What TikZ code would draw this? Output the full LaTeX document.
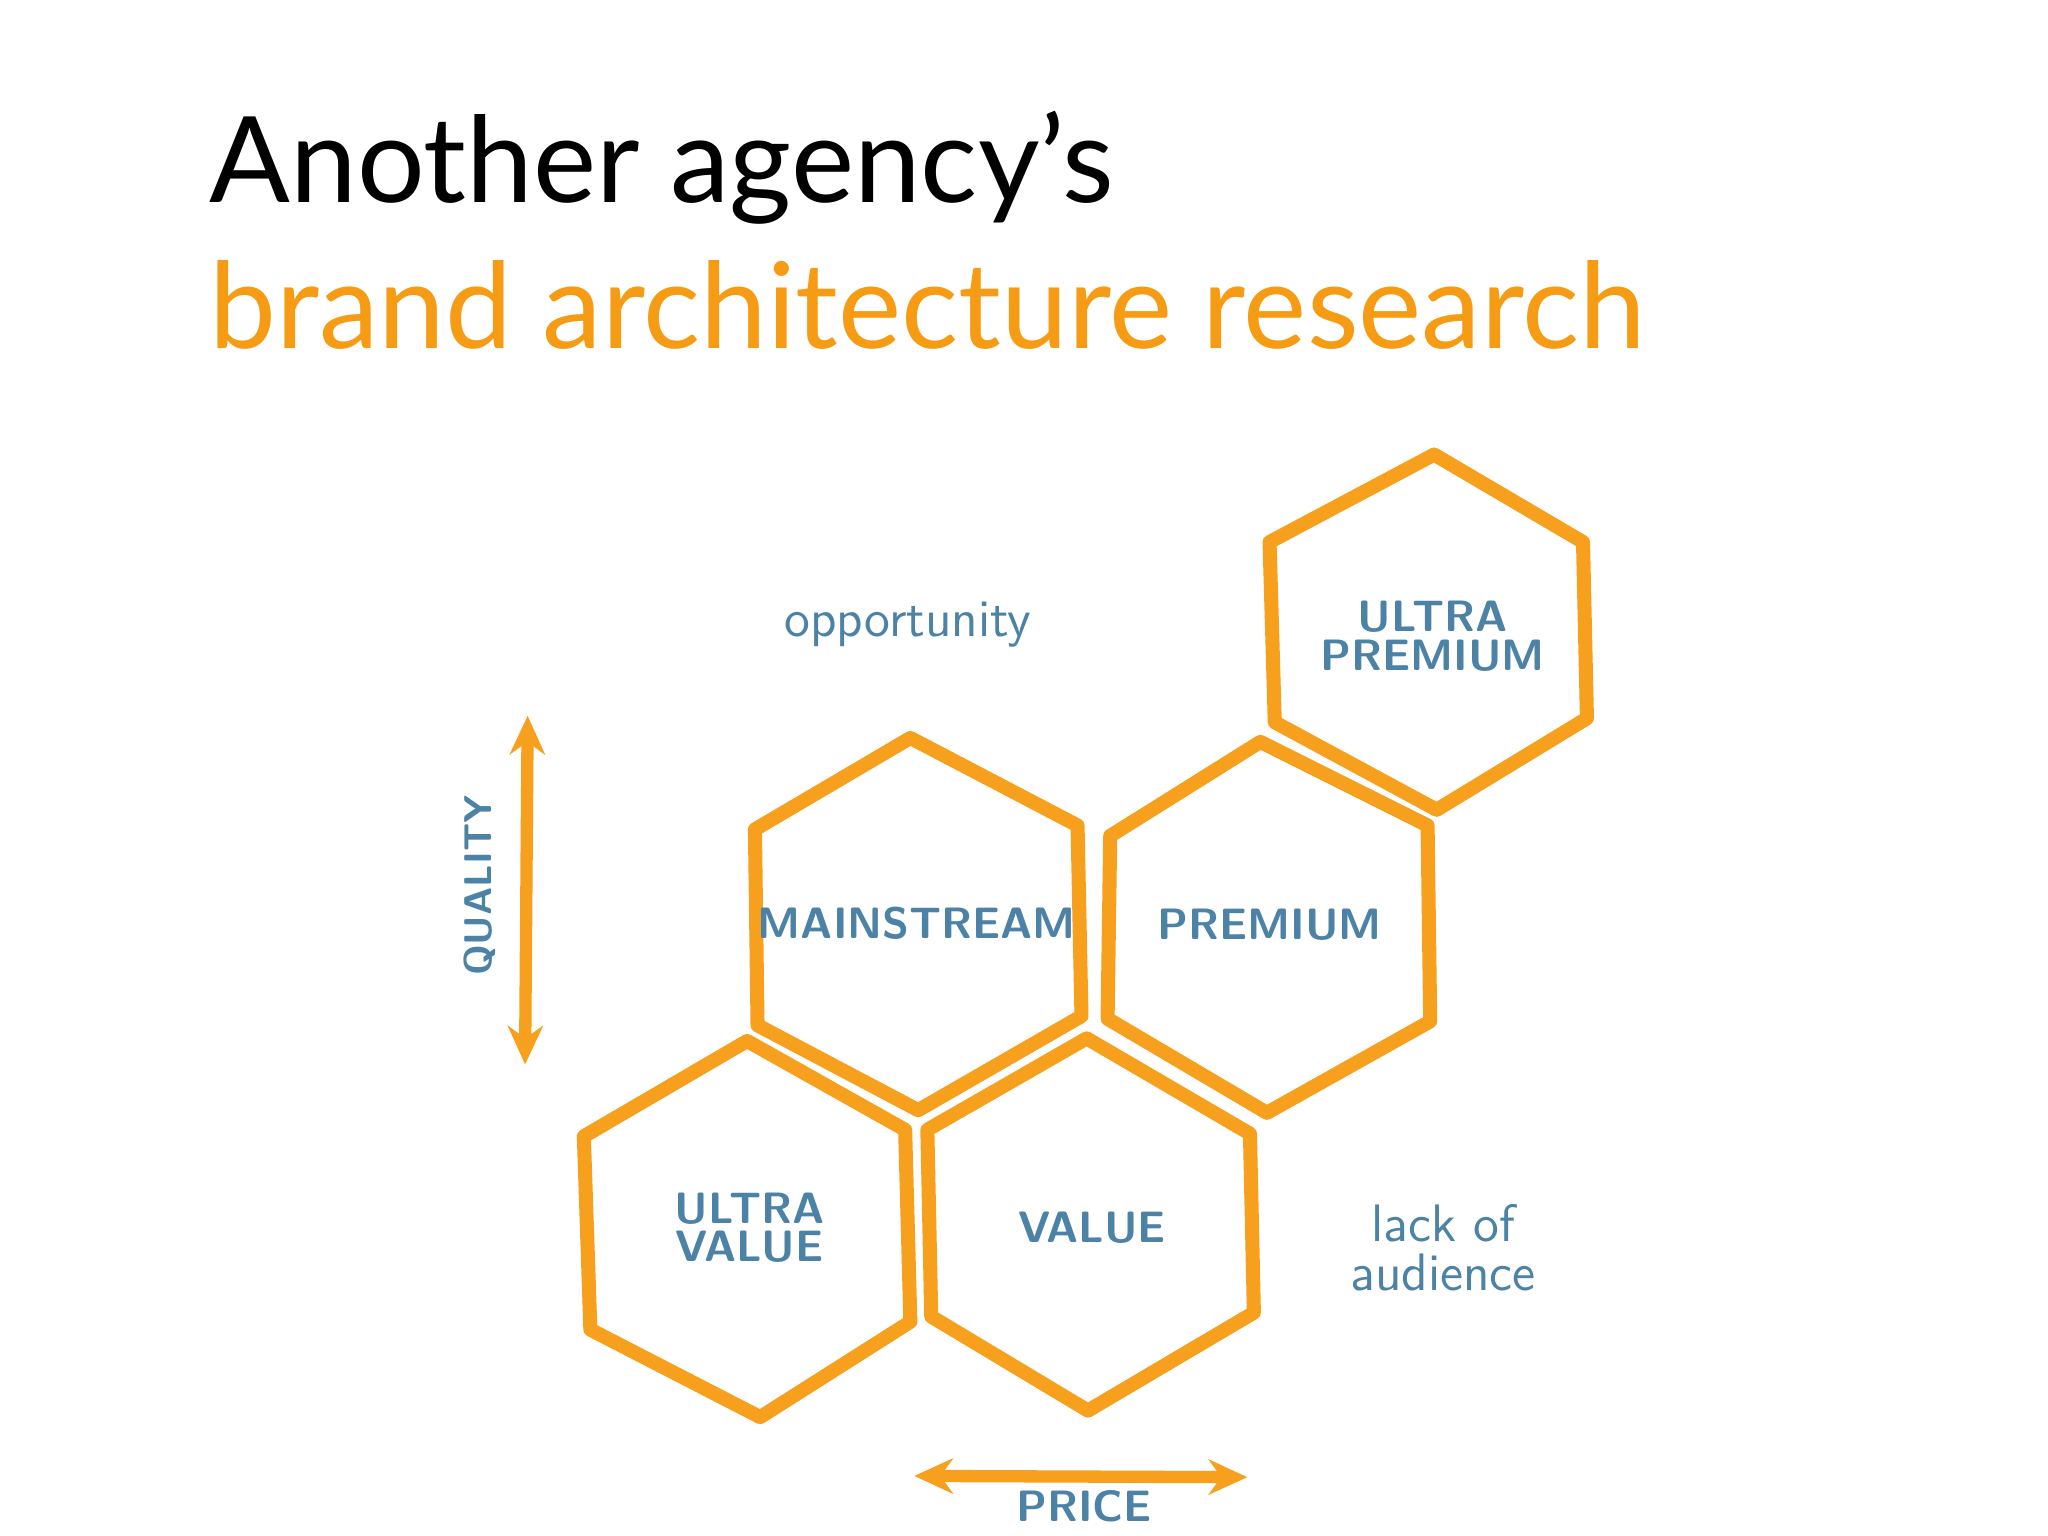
\documentclass[tikz,border=0pt]{standalone}
\usepackage{fontspec}
\setmainfont{Lato}
\usetikzlibrary{arrows.meta}
\definecolor{org}{RGB}{245,155,20}
\definecolor{hexc}{RGB}{247,160,30}
\definecolor{blu}{RGB}{75,130,165}
\begin{document}
\begin{tikzpicture}[x=0.01306cm,y=-0.01306cm,
  hex/.style={draw=hexc,line width=4pt,line join=round,line cap=round},
  lbl/.style={text=blu,font=\sffamily\bfseries\fontsize{12.5}{11}\selectfont,align=center},
  hand/.style={text=blu,font=\sffamily\fontsize{15}{14}\selectfont,align=center},
  arr/.style={draw=hexc,line width=3.5pt,{Stealth[length=11pt,width=10pt]}-{Stealth[length=11pt,width=10pt]}}]
\useasboundingbox (0,0) rectangle (1568,1176);
\node[anchor=base west,inner sep=0,font=\fontsize{34}{34}\selectfont] (t1) at (160,155) {Another agency’s};
\node[anchor=base west,inner sep=0,text=org,font=\fontsize{34}{34}\selectfont] (t2) at (160,267) {brand architecture research};
% hexagons
\draw[hex] (1098,348) -- (972,415) -- (976,553) -- (1100,620) -- (1215,550) -- (1212,415) -- cycle;
\draw[hex] (697,565) -- (578,635) -- (580,785) -- (703,850) -- (828,778) -- (825,632) -- cycle;
\draw[hex] (965,568) -- (850,640) -- (848,780) -- (970,852) -- (1095,782) -- (1093,632) -- cycle;
\draw[hex] (572,797) -- (447,870) -- (452,1018) -- (582,1085) -- (697,1012) -- (693,865) -- cycle;
\draw[hex] (832,795) -- (710,865) -- (713,1008) -- (833,1080) -- (960,1005) -- (957,868) -- cycle;
\node[lbl] (up) at (1097,487) {ULTRA\\PREMIUM};
\node[lbl] (ms) at (702,707) {MAINSTREAM};
\node[lbl] (pr) at (972,708) {PREMIUM};
\node[lbl] (uv) at (574,940) {ULTRA\\VALUE};
\node[lbl] (va) at (836,940) {VALUE};
\node[hand] (op) at (695,478) {opportunity};
\node[hand] (la) at (1105,955) {lack of\\audience};
\node[lbl,rotate=90,font=\sffamily\bfseries\fontsize{11}{11}\selectfont] (q) at (367,678) {QUALITY};
\node[lbl] (p) at (830,1153) {PRICE};
\coordinate (qa) at (404,548);
\coordinate (qb) at (402,815);
\coordinate (pa) at (700,1130);
\coordinate (pb) at (955,1131);
\draw[arr] (qa) -- (qb);
\draw[arr] (pa) -- (pb);
\end{tikzpicture}
\end{document}
